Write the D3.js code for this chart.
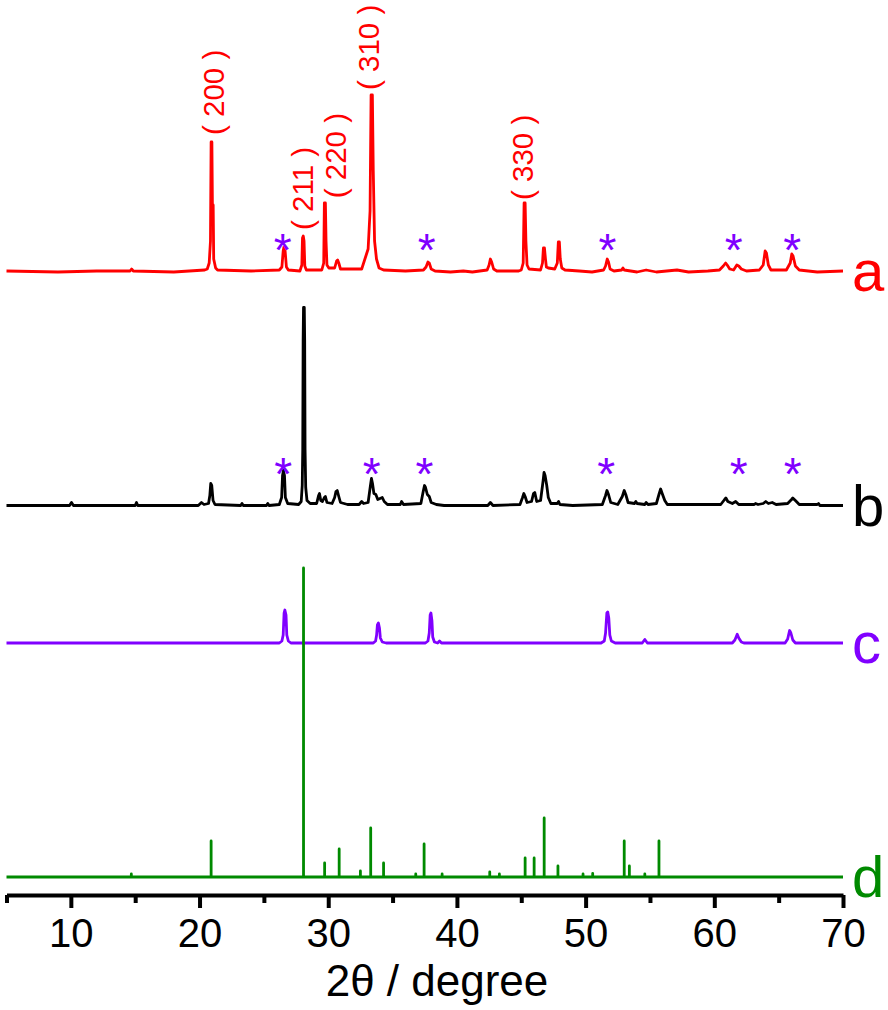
<!DOCTYPE html>
<html lang="en">
<head>
<meta charset="utf-8">
<script src="https://cdn.jsdelivr.net/npm/d3@7"></script>
<style>
  body { margin: 0; background: #fff; }
  text { font-family: "Liberation Sans", Arial, sans-serif; }
</style>
</head>
<body>
<script>
// XRD patterns, [2theta (deg), intensity (a.u.)]
var patternA = [[5,0],[9,-1],[12,0],[14.6,0],[14.72,2],[14.85,0],[18,-1],[20.4,1],[20.6,2],[20.75,8],[20.85,30],[20.9,129],[20.96,129],[21.0,66],[21.06,66],[21.1,12],[21.25,3],[21.4,1],
  [24,0],[26.2,1],[26.4,4],[26.5,20],[26.56,24],[26.65,20],[26.75,4],[26.9,1],[27.8,0],[27.95,6],[28.0,33],[28.06,35],[28.12,30],[28.18,5],[28.3,1],
  [29.5,1],[29.65,8],[29.7,68],[29.78,68],[29.83,30],[29.9,6],[30.05,3],[30.5,3],[30.65,10],[30.73,11],[30.82,8],[30.95,2],
  [32.6,2],[32.8,10],[32.95,16],[33.1,22],[33.25,60],[33.33,176],[33.43,176],[33.5,100],[33.6,30],[33.75,12],[33.95,3],[34.3,1],
  [36,0],[37.4,1],[37.6,4],[37.75,9],[37.85,8],[38.0,2],[38.3,0],[39.5,-1],[40.5,0],[41.2,-1],
  [42.35,1],[42.5,6],[42.6,12],[42.7,9],[42.85,2],[43.1,0],[44.8,0],
  [45.0,1],[45.15,8],[45.22,68],[45.3,68],[45.36,30],[45.45,6],[45.6,2],[46.5,1],[46.65,8],[46.72,23],[46.8,23],[46.88,12],[46.95,4],[47.1,3],
  [47.6,2],[47.8,8],[47.88,29],[47.96,29],[48.03,12],[48.15,3],[48.4,1],[49.5,0],[50.5,-1],
  [51.4,1],[51.55,5],[51.68,12],[51.78,9],[51.9,2],[52.2,0],[52.8,1],[52.9,3],[53.0,1],[54,-1],[54.7,1],[55.5,-1],[57.1,1],[58,-1],[59.5,0],
  [60.4,1],[60.7,5],[60.88,8],[61.0,6],[61.2,2],[61.5,1],[61.75,6],[61.9,5],[62.1,2],[62.5,0],
  [63.5,1],[63.8,6],[63.95,20],[64.05,18],[64.2,6],[64.4,1],[65.6,1],[65.9,8],[66.02,17],[66.12,15],[66.3,5],[66.6,1],[68,-1],[70,0]];

var patternB = [[5,0],[9.9,0],[10.05,3],[10.2,0],[15.0,0],[15.1,3],[15.2,0],[19.9,0],[20.15,3],[20.35,1],[20.7,2],[20.8,10],[20.87,22],[20.95,20],[21.05,5],[21.2,1],
  [23.2,0],[23.3,2],[23.4,0],[25.2,0],[25.3,2],[25.4,0],[26.2,1],[26.38,8],[26.45,30],[26.52,35],[26.6,30],[26.67,8],[26.85,2],
  [27.7,1],[27.9,4],[27.98,20],[28.02,56],[28.05,165],[28.08,198],[28.14,198],[28.17,165],[28.2,56],[28.25,18],[28.35,5],[28.6,2],
  [29.1,2],[29.25,10],[29.32,12],[29.42,5],[29.55,4],[29.7,8],[29.78,9],[29.9,3],[30.3,2],[30.5,8],[30.6,14],[30.7,15],[30.8,10],[30.95,3],
  [31.5,1],[32.4,1],[32.6,4],[32.75,2],[33.1,3],[33.28,20],[33.36,27],[33.44,22],[33.55,12],[33.7,11],[33.85,6],[34.2,8],[34.35,4],[34.6,1],
  [35.6,1],[35.7,4],[35.85,1],[37.2,2],[37.38,14],[37.48,20],[37.56,18],[37.7,11],[37.85,9],[38.0,3],[38.4,1],[39,0],[42.4,0],[42.6,3],[42.8,0],
  [44.9,1],[45.1,8],[45.2,12],[45.3,9],[45.45,3],[45.8,4],[45.95,12],[46.05,13],[46.2,4],[46.5,5],[46.7,25],[46.77,33],[46.85,30],[46.98,20],[47.1,8],[47.3,2],
  [47.8,2],[47.9,4],[48.0,1],[49,0],[51.3,1],[51.55,10],[51.66,15],[51.78,11],[51.95,3],[52.5,1],[52.85,9],[53.0,15],[53.12,11],[53.3,3],
  [53.8,2],[53.9,4],[54.0,2],[54.6,1],[54.7,3],[54.85,1],[55.5,2],[55.72,12],[55.83,16.5],[55.95,12],[56.15,5],[56.35,1],
  [60.5,1],[60.8,6],[60.9,7.5],[61.05,4],[61.4,2],[61.66,4],[61.9,1],[63.1,1],[63.2,2],[63.4,1],[63.8,2],[64.0,4],[64.2,2],[64.5,3],[64.8,1],
  [65.7,2],[66.0,6],[66.1,7.5],[66.3,5],[66.6,1],[68.0,1],[68.1,2],[68.2,0],[70,0]];

var patternC = [[5,0],[26.2,0],[26.4,2],[26.5,8],[26.57,30],[26.63,33],[26.72,28],[26.78,8],[26.9,2],[27.1,0],
  [33.5,0],[33.68,2],[33.76,8],[33.82,18],[33.9,20],[33.98,15],[34.05,5],[34.2,1],[34.5,0],
  [37.55,0],[37.75,2],[37.85,10],[37.92,28],[37.98,30],[38.06,22],[38.12,6],[38.25,1],[38.5,0],[38.65,2],[38.8,0],
  [51.2,0],[51.45,2],[51.55,10],[51.65,30],[51.72,31],[51.8,25],[51.88,8],[52.0,2],[52.3,0],[54.4,0],[54.6,3.5],[54.8,0],
  [61.4,0],[61.6,3],[61.78,8.7],[61.9,5],[62.1,1],[62.3,0],[65.5,0],[65.7,4],[65.85,12.5],[65.95,10],[66.1,3],[66.3,0],[70,0]];

// reference card (stick pattern): [2theta, intensity]
var sticksD = [[14.7,3],[20.9,36],[28.08,309],[29.72,14],[30.85,28],[32.5,6],[33.3,49],[34.3,14],[36.8,3],[37.45,33],[38.85,3],
  [42.55,5],[43.3,3],[45.3,19],[46.0,19],[46.78,59],[47.85,11],[49.8,3],[50.55,3.5],[53.0,36],[53.4,11],[54.6,3],[55.7,36]];

var seriesNames = ["a", "b", "c", "d"];
var seriesColors = ["#ff0000", "#000000", "#8000ff", "#008a00"];
var stackOffsets = [624, 389.5, 252, 18];   // vertical offset of each pattern (a.u.)

// peaks marked with * and Miller indices on pattern a
var starsA = [26.46, 37.65, 51.7, 61.5, 66.06];
var starsB = [26.5, 33.38, 37.47, 51.6, 61.9, 66.1];
var starLevel = [32, 42.5];
var hklText = ["( 200 )", "( 211 )", "( 220 )", "( 310 )", "( 330 )"];
var hklPos = [21.07, 28.0, 30.6, 33.17, 45.09];
var hklLevel = [136, 41, 72.7, 181, 71];

var xMajor = [10, 20, 30, 40, 50, 60, 70];
var xMinor = [5, 15, 25, 35, 45, 55, 65];

var width = 888, height = 1010, axisY = 895;

var x = d3.scaleLinear().domain([5, 70]).range([6.5, 843]);
var y = d3.scaleLinear().domain([0, 895]).range([axisY, 0]);

var svg = d3.select("body").append("svg").attr("width", width).attr("height", height);

var dPoints = [[5, 0]];
sticksD.forEach(function(s) { dPoints.push([s[0], 0], [s[0], s[1]], [s[0], 0]); });
dPoints.push([70, 0]);
var patterns = [patternA, patternB, patternC, dPoints];

patterns.forEach(function(p, i) {
  var line = d3.line()
    .x(function(d) { return x(d[0]); })
    .y(function(d) { return y(d[1] + stackOffsets[i]); });
  svg.append("path").datum(p)
    .attr("fill", "none")
    .attr("stroke", seriesColors[i])
    .attr("stroke-width", 2.8)
    .attr("stroke-linejoin", "round")
    .attr("d", line);
  svg.append("text")
    .attr("x", 852)
    .attr("y", y(stackOffsets[i]) + 20)
    .attr("fill", seriesColors[i])
    .style("font-size", "58px")
    .text(seriesNames[i]);
});

// stars
[starsA, starsB].forEach(function(st, i) {
  svg.selectAll(null).data(st).enter().append("text")
    .attr("x", function(d) { return x(d); })
    .attr("y", y(stackOffsets[i] + starLevel[i]))
    .attr("dy", "0.58em")
    .attr("text-anchor", "middle")
    .attr("fill", "#8000ff")
    .style("font-size", "46px")
    .text("*");
});

// Miller indices
svg.selectAll(null).data(hklText).enter().append("text")
  .attr("transform", function(d, i) {
    return "translate(" + x(hklPos[i]) + "," + y(stackOffsets[0] + hklLevel[i]) + ") rotate(-90)";
  })
  .attr("dy", "0.35em")
  .attr("fill", "#ff0000")
  .style("font-size", "29.5px")
  .text(function(d) { return d; });

// x axis
var gMajor = svg.append("g").attr("transform", "translate(0," + axisY + ")")
  .call(d3.axisBottom(x).tickValues(xMajor).tickSize(13).tickSizeOuter(0).tickPadding(11));
gMajor.select(".domain").attr("stroke-width", 4);
gMajor.selectAll(".tick line").attr("stroke-width", 4);
gMajor.selectAll(".tick text")
  .style("font-family", "'Liberation Sans', Arial, sans-serif")
  .style("font-size", "40px")
  .attr("fill", "#000");

var gMinor = svg.append("g").attr("transform", "translate(0," + axisY + ")")
  .call(d3.axisBottom(x).tickValues(xMinor).tickSize(8).tickSizeOuter(0).tickFormat(""));
gMinor.select(".domain").remove();
gMinor.selectAll(".tick line").attr("stroke-width", 4);

svg.append("text")
  .attr("x", 437)
  .attr("y", 996)
  .attr("text-anchor", "middle")
  .style("font-size", "44px")
  .text("2\u03b8 / degree");
</script>
</body>
</html>
